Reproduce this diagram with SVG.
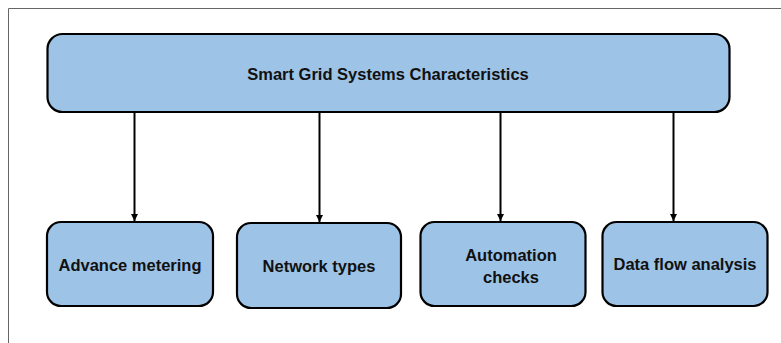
<svg xmlns="http://www.w3.org/2000/svg" width="781" height="343" viewBox="0 0 781 343">
<defs>
<marker id="ah" markerWidth="8" markerHeight="8" refX="7" refY="4" orient="auto" markerUnits="userSpaceOnUse">
<path d="M0,0.5 L7,4 L0,7.5 Z" fill="#000"/>
</marker>
<style>
.box{fill:#9DC3E6;stroke:#000;stroke-width:2.2}
.t{font-family:"Liberation Sans",Arial,sans-serif;font-weight:bold;font-size:16.5px;fill:#111;text-anchor:middle}
.c{stroke:#000;stroke-width:2;fill:none}
</style>
</defs>
<rect width="781" height="343" fill="#fff"/>
<path d="M8.5,343 V8.5 H781" fill="none" stroke="#666" stroke-width="1"/>
<g id="top">
<rect class="box" x="47.5" y="34" width="682" height="78" rx="15"/>
<text class="t" x="388" y="80">Smart Grid Systems Characteristics</text>
</g>
<g id="connectors">
<line class="c" x1="134.5" y1="113" x2="134.5" y2="221" marker-end="url(#ah)"/>
<line class="c" x1="319.5" y1="113" x2="319.5" y2="222" marker-end="url(#ah)"/>
<line class="c" x1="500.5" y1="113" x2="500.5" y2="221" marker-end="url(#ah)"/>
<line class="c" x1="673.5" y1="113" x2="673.5" y2="221" marker-end="url(#ah)"/>
</g>
<g id="n1">
<rect class="box" x="47" y="222" width="166" height="84" rx="14"/>
<text class="t" x="130" y="271">Advance metering</text>
</g>
<g id="n2">
<rect class="box" x="237" y="223" width="164" height="85" rx="14"/>
<text class="t" x="319" y="272">Network types</text>
</g>
<g id="n3">
<rect class="box" x="420.5" y="222" width="165" height="84" rx="14"/>
<text class="t" x="511" y="261">Automation</text>
<text class="t" x="511" y="283">checks</text>
</g>
<g id="n4">
<rect class="box" x="602.5" y="222" width="165" height="84" rx="14"/>
<text class="t" x="685" y="270">Data flow analysis</text>
</g>
</svg>
